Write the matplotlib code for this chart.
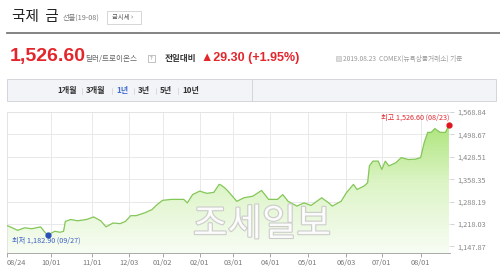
import numpy as np
import matplotlib
matplotlib.use("Agg")
import matplotlib.pyplot as plt
import matplotlib.patches as patches
import matplotlib.patheffects as pe
from matplotlib.lines import Line2D
from matplotlib.colors import LinearSegmentedColormap

plt.rcParams['font.family'] = ['Noto Sans CJK KR', 'DejaVu Sans']

# gold futures price
dates = ["2018-08-24", "2018-08-29", "2018-09-04", "2018-09-10", "2018-09-14",
         "2018-09-21", "2018-09-25", "2018-09-27", "2018-10-03", "2018-10-08",
         "2018-10-10", "2018-10-11", "2018-10-16", "2018-10-22", "2018-10-29",
         "2018-11-02", "2018-11-08", "2018-11-13", "2018-11-19", "2018-11-26",
         "2018-11-29", "2018-12-04", "2018-12-10", "2018-12-17", "2018-12-21",
         "2018-12-27", "2019-01-02", "2019-01-09", "2019-01-18", "2019-01-23",
         "2019-01-28", "2019-02-01", "2019-02-07", "2019-02-13", "2019-02-19",
         "2019-02-20", "2019-02-22", "2019-02-26", "2019-03-05", "2019-03-11",
         "2019-03-18", "2019-03-25", "2019-03-29", "2019-04-05", "2019-04-10",
         "2019-04-15", "2019-04-23", "2019-04-29", "2019-05-03", "2019-05-13",
         "2019-05-17", "2019-05-21", "2019-05-29", "2019-06-03", "2019-06-07",
         "2019-06-11", "2019-06-17", "2019-06-19", "2019-06-20", "2019-06-24",
         "2019-06-27", "2019-07-01", "2019-07-03", "2019-07-08", "2019-07-12",
         "2019-07-17", "2019-07-23", "2019-07-29", "2019-08-01", "2019-08-05",
         "2019-08-07", "2019-08-09", "2019-08-13", "2019-08-16", "2019-08-21",
         "2019-08-23"]
prices = [1213.0, 1206.0, 1198.0, 1206.0, 1203.0,
          1209.0, 1195.0, 1182.9, 1195.0, 1192.0,
          1195.0, 1226.0, 1232.0, 1228.0, 1232.0,
          1240.0, 1228.0, 1209.0, 1221.0, 1219.0,
          1226.0, 1244.0, 1244.0, 1253.0, 1263.0,
          1279.0, 1292.0, 1295.0, 1295.0, 1284.0,
          1310.0, 1321.0, 1314.0, 1317.0, 1342.0,
          1340.0, 1332.0, 1321.0, 1289.0, 1300.0,
          1305.0, 1323.0, 1295.0, 1295.0, 1310.0,
          1289.0, 1274.0, 1284.0, 1276.0, 1300.0,
          1284.0, 1274.0, 1289.0, 1316.0, 1342.0,
          1326.0, 1337.0, 1347.0, 1400.0, 1415.0,
          1415.0, 1389.0, 1415.0, 1400.0, 1410.0,
          1426.0, 1420.0, 1421.0, 1426.0, 1473.0,
          1505.0, 1505.0, 1517.0, 1505.0, 1505.0,
          1526.6]

holidays = ["2018-09-03", "2018-11-22", "2018-12-05", "2018-12-25", "2019-01-01",
            "2019-01-21", "2019-02-18", "2019-04-19", "2019-05-27", "2019-07-04"]

tick_dates = ["2018-08-24", "2018-10-01", "2018-11-01", "2018-12-03", "2019-01-02",
              "2019-02-01", "2019-03-01", "2019-04-01", "2019-05-01", "2019-06-03",
              "2019-07-01", "2019-08-01"]
tick_labels = ["08/24", "10/01", "11/01", "12/03", "01/02", "02/01",
               "03/01", "04/01", "05/01", "06/03", "07/01", "08/01"]
y_ticks = [1147.87, 1218.03, 1288.19, 1358.35, 1428.51, 1498.67, 1568.84]

tabs = ["1개월", "3개월", "1년", "3년", "5년", "10년"]

W, H = 500, 270
RED = "#e3262c"
BLUE = "#3d5fc4"


def fx(x):
    return x / W


def fy(y):
    return 1 - y / H


def trading_index(ds):
    return np.busday_count(dates[0], np.array(ds, dtype="datetime64[D]"),
                           holidays=holidays)


def main():
    fig = plt.figure(figsize=(5, 2.7), dpi=100)

    # ---- header ----
    fig.text(fx(12), fy(17), "국제  금", fontsize=10.5, color="#222",
             va="center")
    fig.text(fx(63), fy(18), "선물(19-08)", fontsize=5.2, color="#777",
             va="center")
    fig.add_artist(patches.Rectangle((fx(107), fy(24)), fx(34), 13 / H,
                                     transform=fig.transFigure, fc="white",
                                     ec="#d0d0d0", lw=0.6))
    fig.text(fx(112), fy(17.5), "금시세 ›", fontsize=4.6, color="#555",
             va="center")
    fig.add_artist(Line2D([fx(7), fx(500)], [fy(33), fy(33)],
                          transform=fig.transFigure, color="#7a7a7a", lw=1.3))

    fig.text(fx(10), fy(57), "1,526.60", fontsize=14, color=RED,
             fontweight="bold", va="center", family=["Liberation Sans"])
    fig.text(fx(85), fy(58.5), "달러/트로이온스", fontsize=5.5, color="#666",
             va="center")
    fig.add_artist(patches.Rectangle((fx(147.5), fy(62)), fx(7), 7 / H,
                                     transform=fig.transFigure, fc="white",
                                     ec="#aaa", lw=0.5))
    fig.text(fx(151), fy(58.5), "?", fontsize=4.2, color="#888",
             ha="center", va="center")
    fig.text(fx(165), fy(58), "전일대비", fontsize=6.2, color="#333",
             fontweight="bold", va="center")
    fig.text(fx(201), fy(58), "▲29.30 (+1.95%)", fontsize=9, color=RED,
             fontweight="bold", va="center",
             family=["Liberation Sans", "DejaVu Sans"])
    fig.add_artist(patches.Rectangle((fx(336), fy(61)), fx(5), 5 / H,
                                     transform=fig.transFigure, fc="#ddd",
                                     ec="#bbb", lw=0.4))
    fig.text(fx(343), fy(58.5), "2019.08.23  COMEX(뉴욕상품거래소) 기준",
             fontsize=4.8, color="#999", va="center")

    # ---- period tabs ----
    fig.add_artist(patches.Rectangle((fx(7), fy(101)), fx(489), 22 / H,
                                     transform=fig.transFigure, fc="#f3f4f8",
                                     ec="#d4d5db", lw=0.7))
    fig.add_artist(Line2D([fx(252), fx(252)], [fy(79), fy(101)],
                          transform=fig.transFigure, color="#d4d5db", lw=0.7))
    tab_x = [57, 86, 116, 138, 160, 182]
    for i, t in enumerate(tabs):
        color = "#3f6fcf" if t == "1년" else "#333"
        fig.text(fx(tab_x[i]), fy(91), t, fontsize=5.8, color=color,
                 fontweight="bold", va="center")
        if i > 0:
            fig.add_artist(Line2D([fx(tab_x[i] - 4)] * 2, [fy(88), fy(94)],
                                  transform=fig.transFigure, color="#d0d0d0",
                                  lw=0.5))

    # ---- chart ----
    ax = fig.add_axes([fx(7), fy(253), fx(443), (253 - 112) / H])
    x = trading_index(dates)
    y = np.array(prices)
    x_end = x[-1]
    ymin, ymax = 1127.0, 1568.84

    cmap = LinearSegmentedColormap.from_list("g", ["#f8fdf4", "#dcf4c6",
                                                   "#a4e26c"])
    grad = np.linspace(0, 1, 256).reshape(-1, 1)
    img = ax.imshow(grad, cmap=cmap, aspect="auto", origin="lower",
                    extent=[0, x_end, ymin, ymax], zorder=1)
    poly = ax.fill_between(x, y, ymin, color="none", lw=0)
    img.set_clip_path(poly.get_paths()[0], transform=ax.transData)
    ax.plot(x, y, color="#84c758", lw=0.9, zorder=3)

    ax.set_xlim(0, x_end + 0.6)
    ax.set_ylim(ymin, ymax)

    xt = trading_index(tick_dates)
    ax.set_xticks(xt)
    ax.set_xticklabels(tick_labels, fontsize=5.3, color="#777")
    ax.get_xticklabels()[0].set_horizontalalignment("left")
    ax.set_yticks(y_ticks)
    ax.set_yticklabels(["{:,.2f}".format(v) for v in y_ticks],
                       fontsize=5.3, color="#888")
    ax.yaxis.tick_right()
    ax.tick_params(axis="x", length=3, width=0.6, color="#999", pad=1.5)
    ax.tick_params(axis="y", length=3, width=0.6, color="#ccc", pad=2)
    ax.grid(True, color="#e9e9e9", lw=0.7, zorder=0)
    ax.set_axisbelow(True)
    for side in ["top", "left"]:
        ax.spines[side].set_color("#e4e4e4")
        ax.spines[side].set_linewidth(0.7)
    ax.spines["right"].set_visible(False)
    ax.spines["bottom"].set_color("#aaa")
    ax.spines["bottom"].set_linewidth(0.7)

    # max / min markers
    imax = int(np.argmax(y))
    imin = int(np.argmin(y))
    ax.plot(x[imax], y[imax], "o", color="#e0161e", ms=3.5, zorder=5,
            clip_on=False)
    ax.plot(x[imin], y[imin], "o", color="#2b4fb8", ms=3.5, zorder=5,
            clip_on=False)
    ax.text(x[imax], y[imax] + 24, "최고 {:,.2f} (08/23)".format(y[imax]),
            fontsize=5.2, color=RED, ha="right", va="center")
    ax.text(3, y[imin] - 17, "최저 {:,.2f} (09/27)".format(y[imin]),
            fontsize=5.2, color=BLUE, ha="left", va="center")

    # watermark
    fig.text(fx(262), fy(225), "조세일보", fontsize=27, color="white",
             ha="center", va="center", alpha=0.9, zorder=10,
             path_effects=[pe.withStroke(linewidth=1.6, foreground="#c8c8c8")])

    fig.savefig("out.png", dpi=100, facecolor="white")


if __name__ == '__main__':
    main()
